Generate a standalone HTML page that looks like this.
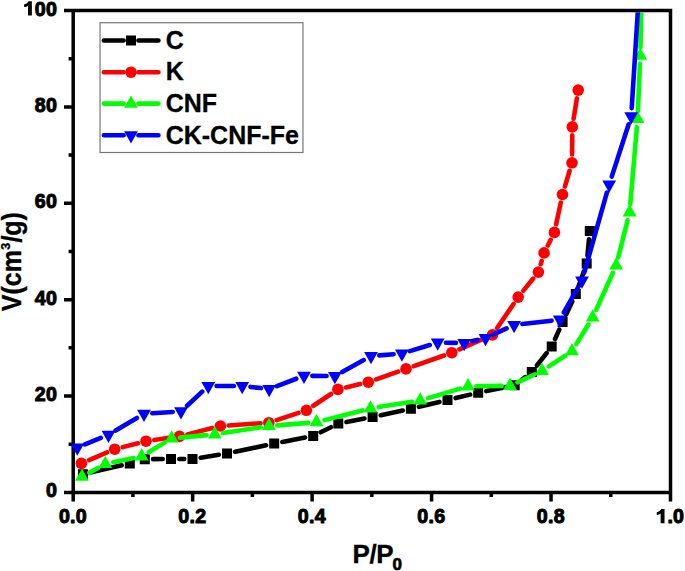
<!DOCTYPE html>
<html><head><meta charset="utf-8"><title>Adsorption isotherm</title>
<style>html,body{margin:0;padding:0;background:#fff;width:685px;height:571px;overflow:hidden}svg{display:block;font-family:"Liberation Sans",sans-serif}</style>
</head><body>
<svg width="685" height="571" viewBox="0 0 685 571">
<path d="M73.2 10.5H670.5V492.4H73.2zM73.2 492.4H64M73.2 444.21H68.6M73.2 396.02H64M73.2 347.83H68.6M73.2 299.64H64M73.2 251.45H68.6M73.2 203.26H64M73.2 155.07H68.6M73.2 106.88H64M73.2 58.69H68.6M73.2 10.5H64M73.2 492.4V501.4M132.93 492.4V496.9M192.66 492.4V501.4M252.39 492.4V496.9M312.12 492.4V501.4M371.85 492.4V496.9M431.58 492.4V501.4M491.31 492.4V496.9M551.04 492.4V501.4M610.77 492.4V496.9M670.5 492.4V501.4" stroke="#000" stroke-width="3.5" fill="none" stroke-linecap="butt" stroke-linejoin="miter"/>
<defs><clipPath id="c"><rect x="74.95" y="12.25" width="593.8" height="478.4"/></clipPath></defs>
<path clip-path="url(#c)" d="M91.09 472.35L121.71 465.35M153.1 459.14L162.7 459.06M179.3 459L184.2 459M200.69 457.67L218.81 454.73M235.13 451.71L266.07 445.29M282.35 442.01L305.05 437.59M320.63 432.3L330.87 427.2M346.45 421.95L364.45 418.55M380.72 415.26L402.78 410.54M418.97 406.86L439.43 401.94M455.57 398.08L470.13 394.62M486.33 391.05L506.57 386.95M521.25 380.2L525.25 377.1M536.92 365.47L546.58 353.13M555.06 339.01L559.24 329.59M566.14 314.49L572.26 301.51M578.59 286.18L583.91 271.32M587.49 255.24L589.01 239.26" stroke="#000000" stroke-width="4.6" stroke-linecap="round" fill="none"/>
<path d="M78 469.2h10v10h-10zM124.8 458.5h10v10h-10zM139.8 454.2h10v10h-10zM166 454h10v10h-10zM187.5 454h10v10h-10zM222 448.4h10v10h-10zM269.2 438.6h10v10h-10zM308.2 431h10v10h-10zM333.3 418.5h10v10h-10zM367.6 412h10v10h-10zM405.9 403.8h10v10h-10zM442.5 395h10v10h-10zM473.2 387.7h10v10h-10zM509.7 380.3h10v10h-10zM526.8 367h10v10h-10zM546.7 341.6h10v10h-10zM557.6 317h10v10h-10zM570.8 289h10v10h-10zM581.7 258.5h10v10h-10zM584.8 226h10v10h-10z" fill="#000000"/>
<path clip-path="url(#c)" d="M89.03 460.14L107.07 452.46M122.74 447.14L137.96 443.26M154.22 440.02L171.18 437.58M187.45 434.36L212.35 428.04M228.68 425.44L260.52 423.26M276.68 420.1L298.52 412.9M313.32 405.71L330.98 393.99M345.98 387.49L360.22 384.11M376.13 379.44L398.17 371.66M413.82 366.13L443.98 355.47M459.4 349.37L484.9 338.23M497.17 328.04L513.53 303.96M523.42 290.64L533.18 278.56M540.76 264.14L541.74 260.86M547.83 245.48L550.67 239.82M556.13 224.28L560.77 202.62M564.88 186.55L569.62 170.75M572.07 154.5L572.23 135.2M573.61 118.7L576.89 98.3" stroke="#ff0000" stroke-width="4.6" stroke-linecap="round" fill="none"/>
<g fill="#ff0000"><circle cx="81.4" cy="463.4" r="5.8"/><circle cx="114.7" cy="449.2" r="5.8"/><circle cx="146" cy="441.2" r="5.8"/><circle cx="179.4" cy="436.4" r="5.8"/><circle cx="220.4" cy="426" r="5.8"/><circle cx="268.8" cy="422.7" r="5.8"/><circle cx="306.4" cy="410.3" r="5.8"/><circle cx="337.9" cy="389.4" r="5.8"/><circle cx="368.3" cy="382.2" r="5.8"/><circle cx="406" cy="368.9" r="5.8"/><circle cx="451.8" cy="352.7" r="5.8"/><circle cx="492.5" cy="334.9" r="5.8"/><circle cx="518.2" cy="297.1" r="5.8"/><circle cx="538.4" cy="272.1" r="5.8"/><circle cx="544.1" cy="252.9" r="5.8"/><circle cx="554.4" cy="232.4" r="5.8"/><circle cx="562.5" cy="194.5" r="5.8"/><circle cx="572" cy="162.8" r="5.8"/><circle cx="572.3" cy="126.9" r="5.8"/><circle cx="578.2" cy="90.1" r="5.8"/></g>
<path clip-path="url(#c)" d="M89.3 472.65L98 467.95M113.42 462.28L133.58 458.02M148.83 452.05L164.57 442.65M179.96 437.61L206.54 435.09M223 433.04L260.8 427.26M277.27 425.34L308.23 422.86M324.54 420.14L362.46 410.46M378.7 407.1L412 401.8M428.16 398.14L460.04 388.66M476.3 386.2L501.7 385.9M517.53 382.32L534.47 374.48M548.93 366.43L565.07 355.77M576.34 344.13L588.36 324.57M596.11 309.93L612.79 272.97M618.23 257.35L627.57 220.35M630.31 204.03L636.89 127.17M637.95 110.61L639.95 63.89M640.48 47.3L642.42 -39.7" stroke="#00ff00" stroke-width="4.6" stroke-linecap="round" fill="none"/>
<path d="M82 468.4L88.9 480.7L75.1 480.7zM105.3 455.8L112.2 468.1L98.4 468.1zM141.7 448.1L148.6 460.4L134.8 460.4zM171.7 430.2L178.6 442.5L164.8 442.5zM214.8 426.1L221.7 438.4L207.9 438.4zM269 417.8L275.9 430.1L262.1 430.1zM316.5 414L323.4 426.3L309.6 426.3zM370.5 400.2L377.4 412.5L363.6 412.5zM420.2 392.3L427.1 404.6L413.3 404.6zM468 378.1L474.9 390.4L461.1 390.4zM510 377.6L516.9 389.9L503.1 389.9zM542 362.8L548.9 375.1L535.1 375.1zM572 343L578.9 355.3L565.1 355.3zM592.7 309.3L599.6 321.6L585.8 321.6zM616.2 257.2L623.1 269.5L609.3 269.5zM629.6 204.1L636.5 216.4L622.7 216.4zM637.6 110.7L644.5 123L630.7 123zM640.3 47.4L647.2 59.7L633.4 59.7z" fill="#00ff00"/>
<path clip-path="url(#c)" d="M84.99 444.37L100.81 437.93M115.64 430.57L136.86 418.03M152.28 413.26L172.72 411.94M187.08 405.75L202.22 391.65M216.6 386L233.9 386M250.45 386.92L260.95 388.08M276.96 386.06L296.24 378.74M312.3 375.85L326.6 375.95M342.17 371.99L363.73 360.11M379.27 355.4L393.63 354.2M409.84 351.08L429.76 345.02M446 342.73L455.9 342.87M472.28 341.1L477.42 339.9M493.06 334.57L506.54 328.43M522.34 324.04L551.56 320.66M563.89 312.48L577.91 287.72M584.26 272.51L606.94 192.49M611.75 176.6L628.65 124.3M631.72 108.12L640.98 -38.72" stroke="#0000ff" stroke-width="4.6" stroke-linecap="round" fill="none"/>
<path d="M77.3 455.7L84.2 443.4L70.4 443.4zM108.5 443L115.4 430.7L101.6 430.7zM144 422L150.9 409.7L137.1 409.7zM181 419.6L187.9 407.3L174.1 407.3zM208.3 394.2L215.2 381.9L201.4 381.9zM242.2 394.2L249.1 381.9L235.3 381.9zM269.2 397.2L276.1 384.9L262.3 384.9zM304 384L310.9 371.7L297.1 371.7zM334.9 384.2L341.8 371.9L328 371.9zM371 364.3L377.9 352L364.1 352zM401.9 361.7L408.8 349.4L395 349.4zM437.7 350.8L444.6 338.5L430.8 338.5zM464.2 351.2L471.1 338.9L457.3 338.9zM485.5 346.2L492.4 333.9L478.6 333.9zM514.1 333.2L521 320.9L507.2 320.9zM559.8 327.9L566.7 315.6L552.9 315.6zM582 288.7L588.9 276.4L575.1 276.4zM609.2 192.7L616.1 180.4L602.3 180.4zM631.2 124.6L638.1 112.3L624.3 112.3z" fill="#0000ff"/>
<g font-family="Liberation Sans" font-weight="bold" font-size="19.6px" fill="#000" stroke="#000" stroke-width="1.0" stroke-linejoin="round"><text x="46.11" y="497.4">0</text><text x="34.82" y="401.02">2</text><text x="46.11" y="401.02">0</text><text x="34.82" y="304.64">4</text><text x="46.11" y="304.64">0</text><text x="34.82" y="208.26">6</text><text x="46.11" y="208.26">0</text><text x="34.82" y="111.88">8</text><text x="46.11" y="111.88">0</text><path stroke="none" transform="translate(23.34 15.5) scale(0.009912 -0.009912)" d="M860 0L470 0L470 990C380 915 250 865 80 845L80 1125C290 1165 450 1280 540 1440L860 1440Z"/><text x="34.82" y="15.5">0</text><text x="46.11" y="15.5">0</text><text x="58.89" y="523.3">0</text><text x="70.08" y="523.3">.</text><text x="75.82" y="523.3">0</text><text x="178.35" y="523.3">0</text><text x="189.54" y="523.3">.</text><text x="195.28" y="523.3">2</text><text x="297.81" y="523.3">0</text><text x="309" y="523.3">.</text><text x="314.74" y="523.3">4</text><text x="417.27" y="523.3">0</text><text x="428.46" y="523.3">.</text><text x="434.2" y="523.3">6</text><text x="536.73" y="523.3">0</text><text x="547.92" y="523.3">.</text><text x="553.66" y="523.3">8</text><path stroke="none" transform="translate(655.99 523.3) scale(0.009912 -0.009912)" d="M860 0L470 0L470 990C380 915 250 865 80 845L80 1125C290 1165 450 1280 540 1440L860 1440Z"/><text x="667.38" y="523.3">.</text><text x="673.12" y="523.3">0</text></g>
<text x="352.6" y="562.5" font-family="Liberation Sans" font-weight="bold" font-size="26px" stroke="#000" stroke-width="0.3" letter-spacing="-0.5">P/P<tspan font-size="17px" dy="7.0" dx="-0.6" stroke-width="0.7">0</tspan></text>
<text transform="translate(21.1 311.2) rotate(-90) scale(1 1.08)" font-family="Liberation Sans" font-weight="bold" font-size="25px" stroke="#000" stroke-width="0.3">V(cm<tspan font-size="12.5px" dy="-10.6" dx="0.4">3</tspan><tspan dy="10.6" dx="0.2">/g)</tspan></text>
<rect x="100.05" y="22.7" width="202.9" height="129.8" fill="#fff" stroke="#777" stroke-width="1.2"/><path d="M103.85 40.5H123.6M138.4 40.5H158.45" stroke="#000000" stroke-width="4.6" stroke-linecap="round"/><path d="M126 35.5h10v10h-10z" fill="#000000"/><text transform="translate(165.7 48.6) scale(1 1.03)" font-family="Liberation Sans" font-weight="bold" font-size="25px" stroke="#000" stroke-width="0.3">C</text><path d="M103.85 72.2H123.6M138.4 72.2H158.45" stroke="#ff0000" stroke-width="4.6" stroke-linecap="round"/><circle cx="131" cy="72.2" r="5.8" fill="#ff0000"/><text transform="translate(165.7 79.8) scale(1 1.03)" font-family="Liberation Sans" font-weight="bold" font-size="25px" stroke="#000" stroke-width="0.3">K</text><path d="M103.85 103.6H123.6M138.4 103.6H158.45" stroke="#00ff00" stroke-width="4.6" stroke-linecap="round"/><path d="M131 95.4L137.9 107.7L124.1 107.7z" fill="#00ff00"/><text transform="translate(165.7 111.6) scale(1 1.03)" font-family="Liberation Sans" font-weight="bold" font-size="25px" stroke="#000" stroke-width="0.3">CNF</text><path d="M103.85 135.3H123.6M138.4 135.3H158.45" stroke="#0000ff" stroke-width="4.6" stroke-linecap="round"/><path d="M131 143.5L137.9 131.2L124.1 131.2z" fill="#0000ff"/><text transform="translate(165.7 143.6) scale(1 1.03)" font-family="Liberation Sans" font-weight="bold" font-size="25px" stroke="#000" stroke-width="0.3">CK-CNF-Fe</text>
</svg>
</body></html>
